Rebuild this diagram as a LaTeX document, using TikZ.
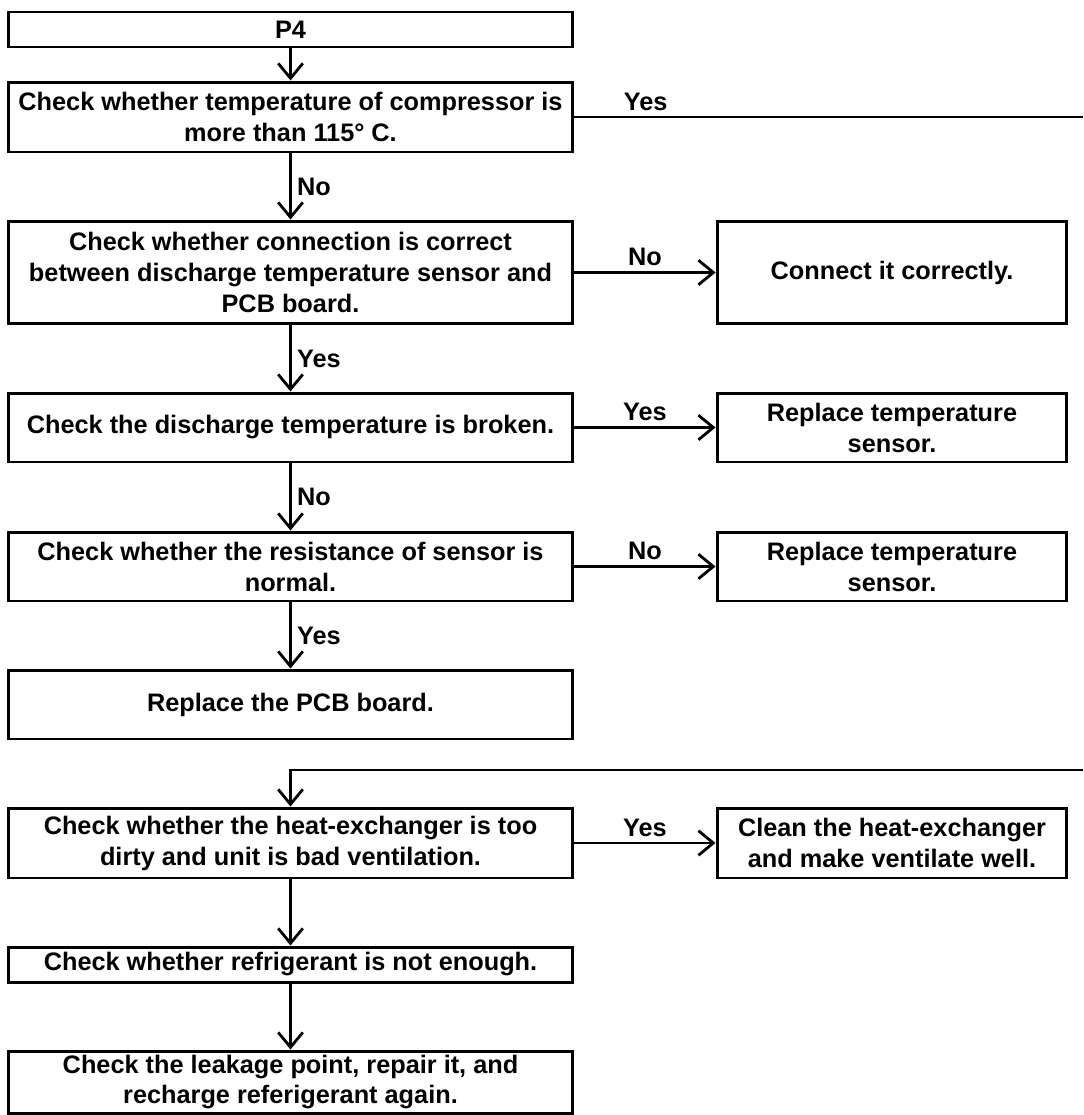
\documentclass[tikz,border=0pt]{standalone}
\usepackage{fontspec}
\setmainfont{Liberation Sans}
\usetikzlibrary{arrows.meta, positioning}

\begin{document}
\begin{tikzpicture}[
  x=0.02cm, y=-0.02cm,
  >={Straight Barb[length=8.5pt, width=14pt]},
  font=\fontsize{14.4}{17.6}\selectfont\bfseries,
  lb/.style={rectangle, draw, line width=1.7pt, align=center, minimum width=11.3cm, inner sep=2pt},
  rb/.style={rectangle, draw, line width=1.7pt, align=center, minimum width=7cm, inner sep=2pt},
  fl/.style={->, line width=1.6pt},
  ln/.style={line width=1.6pt},
  yn/.style={inner sep=3pt}]
\useasboundingbox (0,0) rectangle (1083,1115);

% ---- Left column: checks ----
\node[lb, minimum height=0.7cm] (p4) at (290.5,29.5) {P4};
\node[lb, minimum height=1.4cm] (qtemp) at (290.5,117) {Check whether temperature of compressor is\\more than 115° C.};
\node[lb, minimum height=2.06cm] (qconn) at (290.5,272.5) {Check whether connection is correct\\between discharge temperature sensor and\\PCB board.};
\node[lb, minimum height=1.38cm] (qbrk) at (290.5,427.5) {Check the discharge temperature is broken.};
\node[lb, minimum height=1.38cm] (qres) at (290.5,566.5) {Check whether the resistance of sensor is\\normal.};
\node[lb, minimum height=1.38cm] (pcb) at (290.5,704.5) {Replace the PCB board.};

% ---- Right column: actions ----
\node[rb, minimum height=2.06cm] (conn) at (892,272.5) {Connect it correctly.};
\node[rb, minimum height=1.38cm] (rs1) at (892,427.5) {Replace temperature\\sensor.};
\node[rb, minimum height=1.38cm] (rs2) at (892,566.5) {Replace temperature\\sensor.};

\draw[fl] (p4)--(qtemp);
\draw[fl] (qtemp)--(qconn) node[midway,right,yn]{No};
\draw[fl] (qconn)--(qbrk) node[midway,right,yn]{Yes};
\draw[fl] (qbrk)--(qres) node[midway,right,yn]{No};
\draw[fl] (qres)--(pcb) node[midway,right,yn]{Yes};
\draw[fl] (qconn)--(conn) node[midway,above,yn]{No};
\draw[fl] (qbrk)--(rs1) node[midway,above,yn]{Yes};
\draw[fl] (qres)--(rs2) node[midway,above,yn]{No};

% ---- Over-temperature branch (line runs off the right edge) ----
\coordinate (e1) at (1083,117);
\coordinate (e2) at (1083,770);
\node[lb, minimum height=1.4cm] (qhex) at (290.5,843) {Check whether the heat-exchanger is too\\dirty and unit is bad ventilation.};
\node[rb, minimum height=1.4cm] (clean) at (892,843) {Clean the heat-exchanger\\and make ventilate well.};
\node[lb, minimum height=0.7cm] (qref) at (290.5,964.5) {Check whether refrigerant is not enough.};
\node[lb, minimum height=1.24cm] (leak) at (290.5,1082) {Check the leakage point, repair it, and\\recharge referigerant again.};
\draw[ln] (qtemp.east)--(e1) node[pos=0.14,above,yn]{Yes};
\draw[fl] (e2)--(qhex.north |- e2)--(qhex.north);
\draw[fl] (qhex)--(clean) node[midway,above,yn]{Yes};
\draw[fl] (qhex)--(qref);
\draw[fl] (qref)--(leak);
\end{tikzpicture}
\end{document}
